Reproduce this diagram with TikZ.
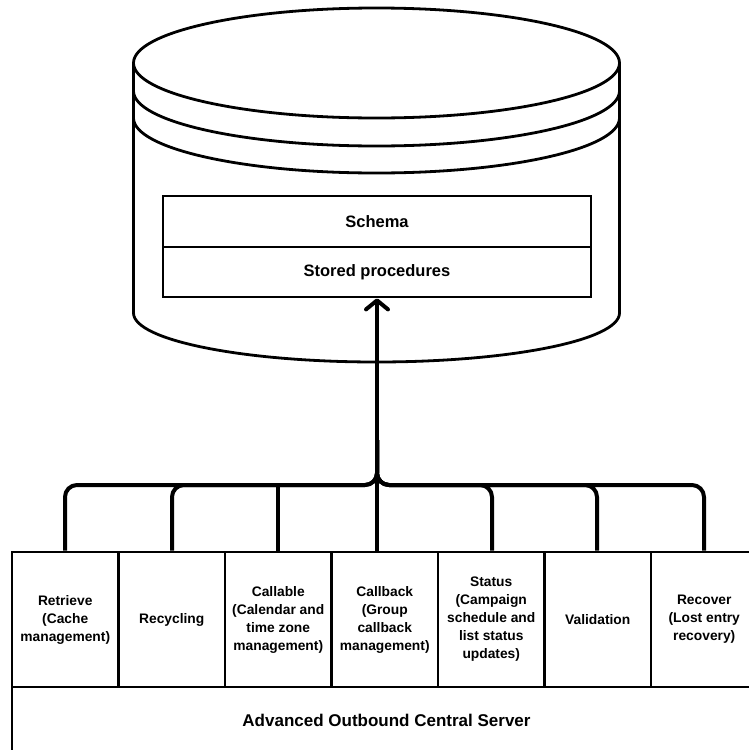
\documentclass[tikz,border=0pt]{standalone}
\usepackage{fontspec}
\setmainfont{Liberation Sans}
\usetikzlibrary{arrows.meta}
\begin{document}
\begin{tikzpicture}[x=1pt,y=-1pt,
  outline/.style={line width=2.8pt, line join=round},
  part/.style={draw, line width=2.8pt, rectangle, minimum width=428pt, inner sep=0pt, font=\bfseries\fontsize{16.5}{19}\selectfont},
  module/.style={draw, line width=2.8pt, rectangle, minimum width=106.5pt, minimum height=135pt, inner sep=0pt, align=center, font=\bfseries\fontsize{13.8}{18}\selectfont},
  link/.style={line width=4pt, rounded corners=12pt},
  sharp/.style={line width=4pt}]
\useasboundingbox (0,0) rectangle (749,750);
\clip (0,0) rectangle (749,750);

% database cylinder
\draw[outline, fill=white] (133.5,63) -- (133.5,313)
  arc[start angle=180, end angle=0, x radius=243, y radius=49] -- (619.5,63);
\draw[outline] (376.5,63) ellipse [x radius=243, y radius=55];
\draw[outline] (133.5,91) arc[start angle=180, end angle=0, x radius=243, y radius=55];
\draw[outline] (133.5,118) arc[start angle=180, end angle=0, x radius=243, y radius=55];

% schema and stored procedures
\node[part, minimum height=51pt] (schema) at (377,221.5) {Schema};
\node[part, minimum height=50pt] (sp) at (377,272) {Stored procedures};

% server modules
\node[module] (retrieve) at (65.25,619.5) {Retrieve\\(Cache\\management)};
\node[module] (recycling) at (171.75,619.5) {Recycling};
\node[module] (callable) at (278.25,619.5) {Callable\\(Calendar and\\time zone\\management)};
\node[module] (callback) at (384.75,619.5) {Callback\\(Group\\callback\\management)};
\node[module] (status) at (491.25,619.5) {Status\\(Campaign\\schedule and\\list status\\updates)};
\node[module] (validation) at (597.75,619.5) {Validation};
\node[module] (recover) at (704.25,619.5) {Recover\\(Lost entry\\recovery)};

% central server
\draw[outline] (12,687) rectangle (800,800);
\node[font=\bfseries\fontsize{17}{20}\selectfont] (server) at (386.5,720) {Advanced Outbound Central Server};

% connectors from modules to the stored procedures
\coordinate (trunk) at (377,440);
\draw[link] (retrieve.north -| 65,0) -- (65,485) -- (377,485) -- (trunk);
\draw[link] (recycling.north -| 172,0) -- (172,485) -- (377,485) -- (trunk);
\draw[sharp] (callable.north -| 278,0) -- (278,485) -- (365,485);
\draw[link] (status.north -| 492,0) -- (492,485) -- (377,485) -- (trunk);
\draw[link] (validation.north -| 597,0) -- (597,485) -- (377,485) -- (trunk);
\draw[link] (recover.north -| 704,0) -- (704,485) -- (377,485) -- (trunk);
\draw[sharp, -{Straight Barb[round, length=9pt, width=22pt]}] (callback.north -| 377,0) -- (sp.south -| 377,0);
\end{tikzpicture}
\end{document}
